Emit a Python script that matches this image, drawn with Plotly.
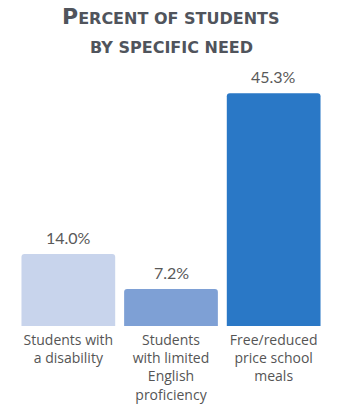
import plotly.graph_objects as go

categories = ["Students with<br>a disability",
              "Students<br>with limited<br>English<br>proficiency",
              "Free/reduced<br>price school<br>meals"]
values = [14.0, 7.2, 45.3]
bar_colors = ["#c8d4ec", "#7ea0d5", "#2a78c6"]
title_lines = ["<span style='font-size:22px'>P</span>ERCENT OF STUDENTS",
               "BY SPECIFIC NEED"]

fig = go.Figure(go.Bar(
    x=categories,
    y=values,
    marker=dict(color=bar_colors, line=dict(width=0)),
    cliponaxis=False,
    hoverinfo="skip",
))

# value labels sitting a few pixels above each bar
for cat, val in zip(categories, values):
    fig.add_annotation(
        x=cat, y=val, xref="x", yref="y",
        text=f"{val:.1f}%",
        yanchor="bottom", yshift=5,
        showarrow=False,
        font=dict(family="Lato", size=16, color="#595959"),
    )

# two-line small-caps heading, placed in pixel terms above the plot area
title_font = dict(family="DejaVu Sans", size=16, color="#50545c")
for line, ypix in zip(title_lines, [27, 55]):
    fig.add_annotation(
        text="<b>" + line + "</b>",
        xref="paper", yref="paper",
        x=0.5, xanchor="center",
        y=1 + (80 - ypix) / 246, yanchor="bottom",
        yshift=-4,
        showarrow=False,
        font=title_font,
    )

fig.update_layout(
    width=337, height=406,
    margin=dict(l=16.5, r=11.5, t=80, b=80, autoexpand=False),
    paper_bgcolor="white",
    plot_bgcolor="white",
    showlegend=False,
    bargap=0.087,
    barcornerradius=3,
    xaxis=dict(showgrid=False, showline=False, zeroline=False, ticks="",
               automargin=False, ticklabelstandoff=4,
               tickfont=dict(family="Open Sans", size=14, color="#555555")),
    yaxis=dict(range=[0, 47.9], visible=False, automargin=False),
)

fig.write_html("out.html")
